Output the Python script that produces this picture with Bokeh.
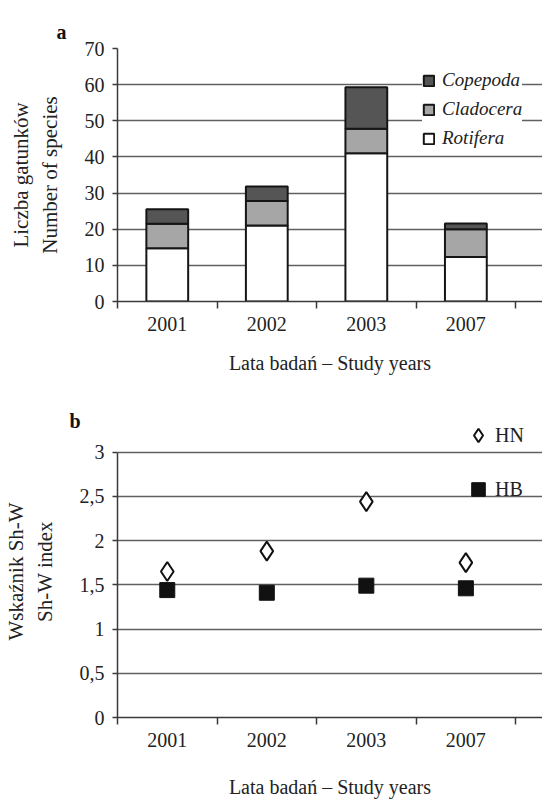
import json
from bokeh.plotting import figure
from bokeh.models import (ColumnDataSource, FixedTicker, Legend, LegendItem,
                          CustomJSTickFormatter, Range1d)
from bokeh.layouts import column
from bokeh.embed import file_html
from bokeh.resources import INLINE

# ---------------- data ----------------
years = ["2001", "2002", "2003", "2007"]
groups = ["Rotifera", "Cladocera", "Copepoda"]
rotifera = [14.7, 21.0, 41.0, 12.3]
cladocera = [6.8, 6.8, 6.8, 7.7]
copepoda = [4.0, 4.0, 11.5, 1.6]
species_ticks = [0, 10, 20, 30, 40, 50, 60, 70]

hn = [1.65, 1.88, 2.44, 1.75]
hb = [1.44, 1.41, 1.49, 1.46]
index_ticks = [0, 0.5, 1, 1.5, 2, 2.5, 3]

# ---------------- style ----------------
FONT = "Liberation Serif"
AXIS_COLOR = "#3a3a3a"
GRID_COLOR = "#606060"
FILLS = ["#ffffff", "#a6a6a6", "#555555"]

x = [i + 0.5 for i in range(len(years))]
bounds = list(range(len(years) + 1))
year_fmt = CustomJSTickFormatter(
    code="const names = %s; return names[Math.floor(tick)] || '';" % json.dumps(years))


def style_axes(p, yticks):
    p.outline_line_color = None
    p.background_fill_color = "white"
    p.xgrid.visible = False
    p.ygrid.ticker = FixedTicker(ticks=yticks)
    p.ygrid.grid_line_color = GRID_COLOR
    p.ygrid.grid_line_width = 1.5
    xa = p.xaxis[0]
    xa.ticker = FixedTicker(ticks=x, minor_ticks=bounds)
    xa.formatter = year_fmt
    xa.major_tick_out = 0
    xa.major_tick_in = 0
    xa.minor_tick_out = 7
    xa.minor_tick_in = 0
    xa.minor_tick_line_color = AXIS_COLOR
    xa.minor_tick_line_width = 1.5
    xa.major_label_standoff = 8
    xa.axis_label_standoff = 18
    ya = p.yaxis[0]
    ya.ticker = FixedTicker(ticks=yticks)
    ya.bounds = (min(yticks), max(yticks))
    ya.minor_tick_line_color = None
    ya.major_tick_out = 5
    ya.major_tick_in = 0
    ya.major_tick_line_color = AXIS_COLOR
    ya.major_tick_line_width = 1.5
    ya.major_label_standoff = 8
    ya.axis_label_standoff = 20
    for ax in (xa, ya):
        ax.axis_line_color = AXIS_COLOR
        ax.axis_line_width = 1.5
        ax.major_label_text_font = FONT
        ax.major_label_text_font_size = "20px"
        ax.major_label_text_color = "#222222"
        ax.axis_label_text_font = FONT
        ax.axis_label_text_font_size = "20px"
        ax.axis_label_text_font_style = "normal"
        ax.axis_label_text_color = "#222222"
    ya.axis_label_text_font_size = "21px"
    p.title.text_font = FONT
    p.title.text_font_size = "20px"
    p.title.text_font_style = "bold"
    p.title.text_color = "#111111"
    p.title.align = "left"


# ---------------- chart a ----------------
pa = figure(width=542, height=383, x_range=Range1d(0, 4.27), y_range=Range1d(0, 70),
            output_backend="svg", toolbar_location=None, title="a",
            min_border_left=102, min_border_right=0, min_border_top=48,
            min_border_bottom=82)
src = ColumnDataSource(dict(x=x, Rotifera=rotifera, Cladocera=cladocera, Copepoda=copepoda))
rs = pa.vbar_stack(groups, x="x", width=0.42, source=src, fill_color=FILLS,
                   line_color="#151515", line_width=2)
pa.xaxis.axis_label = "Lata badań – Study years"
pa.yaxis.axis_label = "Liczba gatunków\nNumber of species"
style_axes(pa, species_ticks)
pa.title.offset = -61
pa.title.standoff = 12

leg_a = Legend(items=[LegendItem(label=g, renderers=[r]) for g, r in reversed(list(zip(groups, rs)))],
               location=(305, 152), glyph_width=13, glyph_height=13, label_height=20,
               spacing=7, padding=10, margin=0, label_standoff=7,
               label_text_font=FONT, label_text_font_size="19px",
               label_text_font_style="italic", label_text_color="#222222",
               border_line_color=None, background_fill_color="white",
               background_fill_alpha=1.0)
pa.add_layout(leg_a)

# ---------------- chart b ----------------
pb = figure(width=542, height=417, x_range=Range1d(0, 4.27), y_range=Range1d(0, 3.3),
            output_backend="svg", toolbar_location=None, title="b",
            min_border_left=102, min_border_right=0, min_border_top=42,
            min_border_bottom=82)
bsrc = ColumnDataSource(dict(x=x, HN=hn, HB=hb))
r_hb = pb.scatter("x", "HB", source=bsrc, marker="square", size=15,
                  fill_color="#111111", line_color="#111111")
r_hn = pb.scatter("x", "HN", source=bsrc, marker="diamond", size=19,
                  fill_color="white", line_color="#111111", line_width=2)
pb.xaxis.axis_label = "Lata badań – Study years"
pb.yaxis.axis_label = "Wskaźnik Sh-W\nSh-W index"
style_axes(pb, index_ticks)
pb.xaxis.axis_label_standoff = 26
pb.yaxis.formatter = CustomJSTickFormatter(code="return tick.toString().replace('.', ',');")
pb.title.offset = -48
pb.title.standoff = -13

leg_b = Legend(items=[LegendItem(label="HN", renderers=[r_hn]),
                      LegendItem(label="HB", renderers=[r_hb])],
               location=(344, 211), glyph_width=34, glyph_height=34, label_height=20,
               spacing=20, padding=0, margin=0, label_standoff=0,
               label_text_font=FONT, label_text_font_size="20px",
               label_text_color="#222222", border_line_color=None,
               background_fill_alpha=0)
pb.add_layout(leg_b)

layout = column(pa, pb, spacing=0)
open("out.html", "w").write(file_html(layout, INLINE))
